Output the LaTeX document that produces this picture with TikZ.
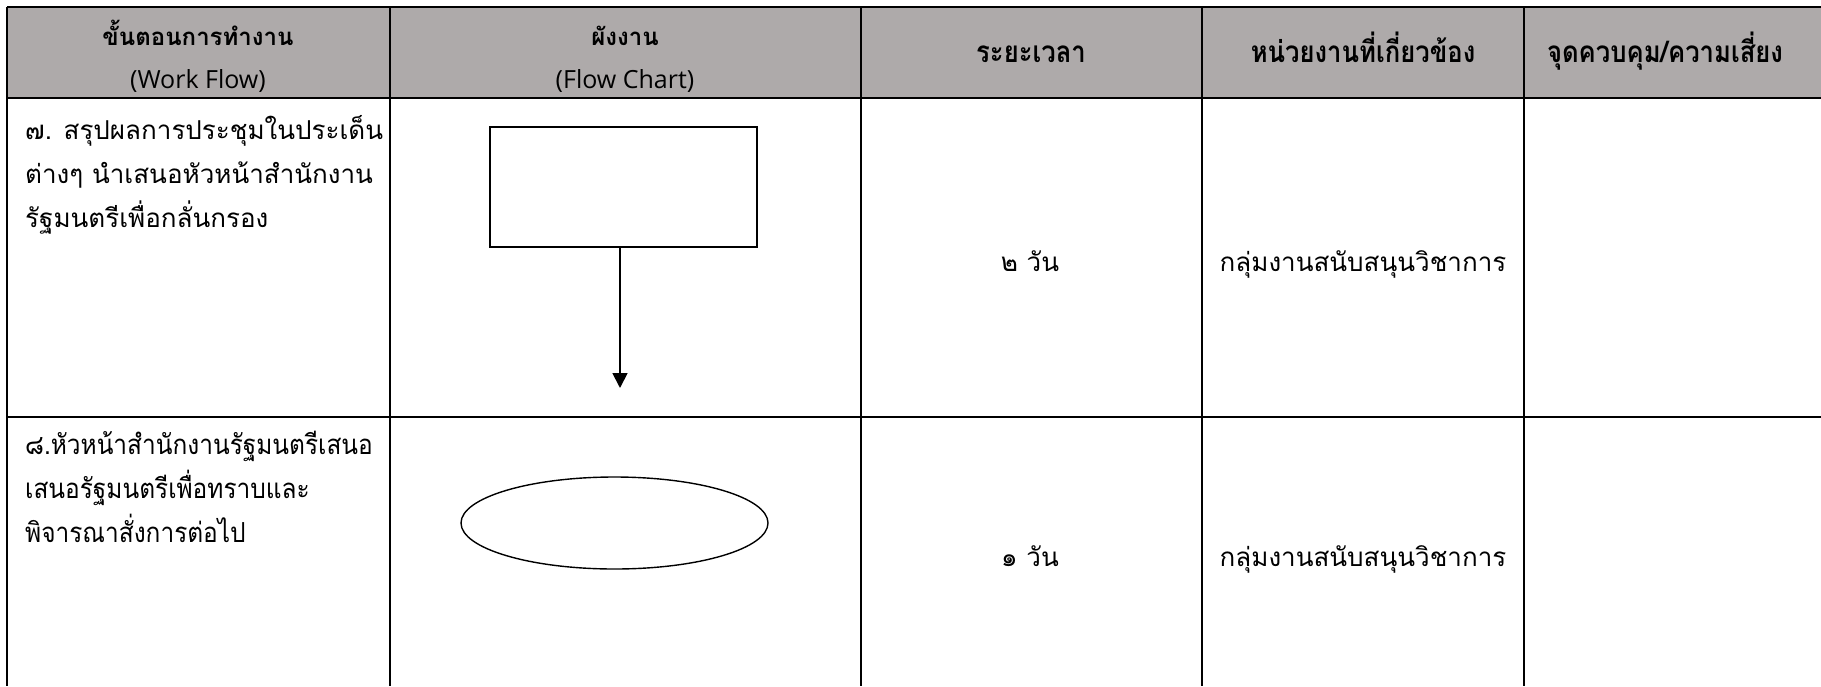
\documentclass[tikz,border=0pt]{standalone}
\usepackage{fontspec}
\newfontfamily\thaifont[Script=Thai]{Loma}
\newfontfamily\latinfont{Open Sans}
\usetikzlibrary{arrows.meta,shapes.geometric}
\definecolor{hdrgray}{HTML}{AEAAAA}
\newcommand{\narrowtext}[1]{\scalebox{0.94}[1.06]{#1}}
\newcommand{\tallhead}[1]{\scalebox{0.95}[1.1]{#1}}
\begin{document}
\begin{tikzpicture}[x=1pt,y=-1pt,
  hdrthai/.style={font=\thaifont\bfseries\fontsize{24}{28}\selectfont, inner sep=0pt, anchor=base},
  hdrwide/.style={font=\thaifont\bfseries\fontsize{27}{31}\selectfont, inner sep=0pt, anchor=base},
  hdrlatin/.style={font=\latinfont\fontsize{25}{29}\selectfont, inner sep=0pt, anchor=base},
  bodyleft/.style={font=\thaifont\fontsize{26}{30}\selectfont, inner sep=0pt, anchor=base west},
  bodycenter/.style={font=\thaifont\fontsize{26}{30}\selectfont, inner sep=0pt, anchor=base},
  gridthin/.style={line width=1.2pt, black},
  gridmid/.style={line width=1.8pt, black},
  gridthick/.style={line width=2.6pt, black},
  procbox/.style={draw, line width=1.7pt, rectangle, inner sep=0pt, minimum width=267pt, minimum height=120pt},
  termoval/.style={draw, line width=1.4pt, ellipse, inner sep=0pt, minimum width=307pt, minimum height=92pt},
  flowarrow/.style={line width=1.8pt, -{Triangle[width=15pt,length=15pt]}}
]
\useasboundingbox (0,0) rectangle (1821,686);
% header background
\fill[hdrgray] (7,7) rectangle (1821,98);
% grid
\draw[gridthin] (7,7) -- (1821,7);
\draw[gridthin] (7,7) -- (7,686);
\draw[gridmid] (390,7) -- (390,686);
\draw[gridmid] (861,7) -- (861,686);
\draw[gridmid] (1202,7) -- (1202,686);
\draw[gridmid] (1524,7) -- (1524,686);
\draw[gridthick] (7,98) -- (1821,98);
\draw[gridthin] (7,417) -- (1821,417);
% header texts
\node[hdrthai] (h1a) at (198,45) {ขั้นตอนการทำงาน};
\node[hdrlatin] (h1b) at (198,88) {(Work Flow)};
\node[hdrthai] (h2a) at (625,45) {ผังงาน};
\node[hdrlatin] (h2b) at (625,88) {(Flow Chart)};
\node[hdrwide] (h3) at (1031,62) {\tallhead{ระยะเวลา}};
\node[hdrwide] (h4) at (1363,62) {\tallhead{หน่วยงานที่เกี่ยวข้อง}};
\node[hdrwide] (h5) at (1665,62) {\tallhead{จุดควบคุม/ความเสี่ยง}};
% row 1
\node[bodyleft] (r1a) at (25,139) {๗. สรุปผลการประชุมในประเด็น};
\node[bodyleft] (r1b) at (25,183) {ต่างๆ นำเสนอหัวหน้าสำนักงาน};
\node[bodyleft] (r1c) at (25,227) {รัฐมนตรีเพื่อกลั่นกรอง};
\node[bodycenter] (r1d) at (1030,271) {๒ วัน};
\node[bodycenter] (r1e) at (1363,271) {กลุ่มงานสนับสนุนวิชาการ};
% row 2
\node[bodyleft] (r2a) at (25,454) {\narrowtext{๘.หัวหน้าสำนักงานรัฐมนตรีเสนอ}};
\node[bodyleft] (r2b) at (25,498) {\narrowtext{เสนอรัฐมนตรีเพื่อทราบและ}};
\node[bodyleft] (r2c) at (25,542) {\narrowtext{พิจารณาสั่งการต่อไป}};
\node[bodycenter] (r2d) at (1030,566) {๑ วัน};
\node[bodycenter] (r2e) at (1363,566) {กลุ่มงานสนับสนุนวิชาการ};
% flow chart
\node[procbox] (box7) at (623.5,187) {};
\coordinate (tip7) at (620,388);
\draw[flowarrow] (box7.south -| tip7) -- (tip7);
\node[termoval] (oval8) at (614.5,523) {};
\end{tikzpicture}
\end{document}
